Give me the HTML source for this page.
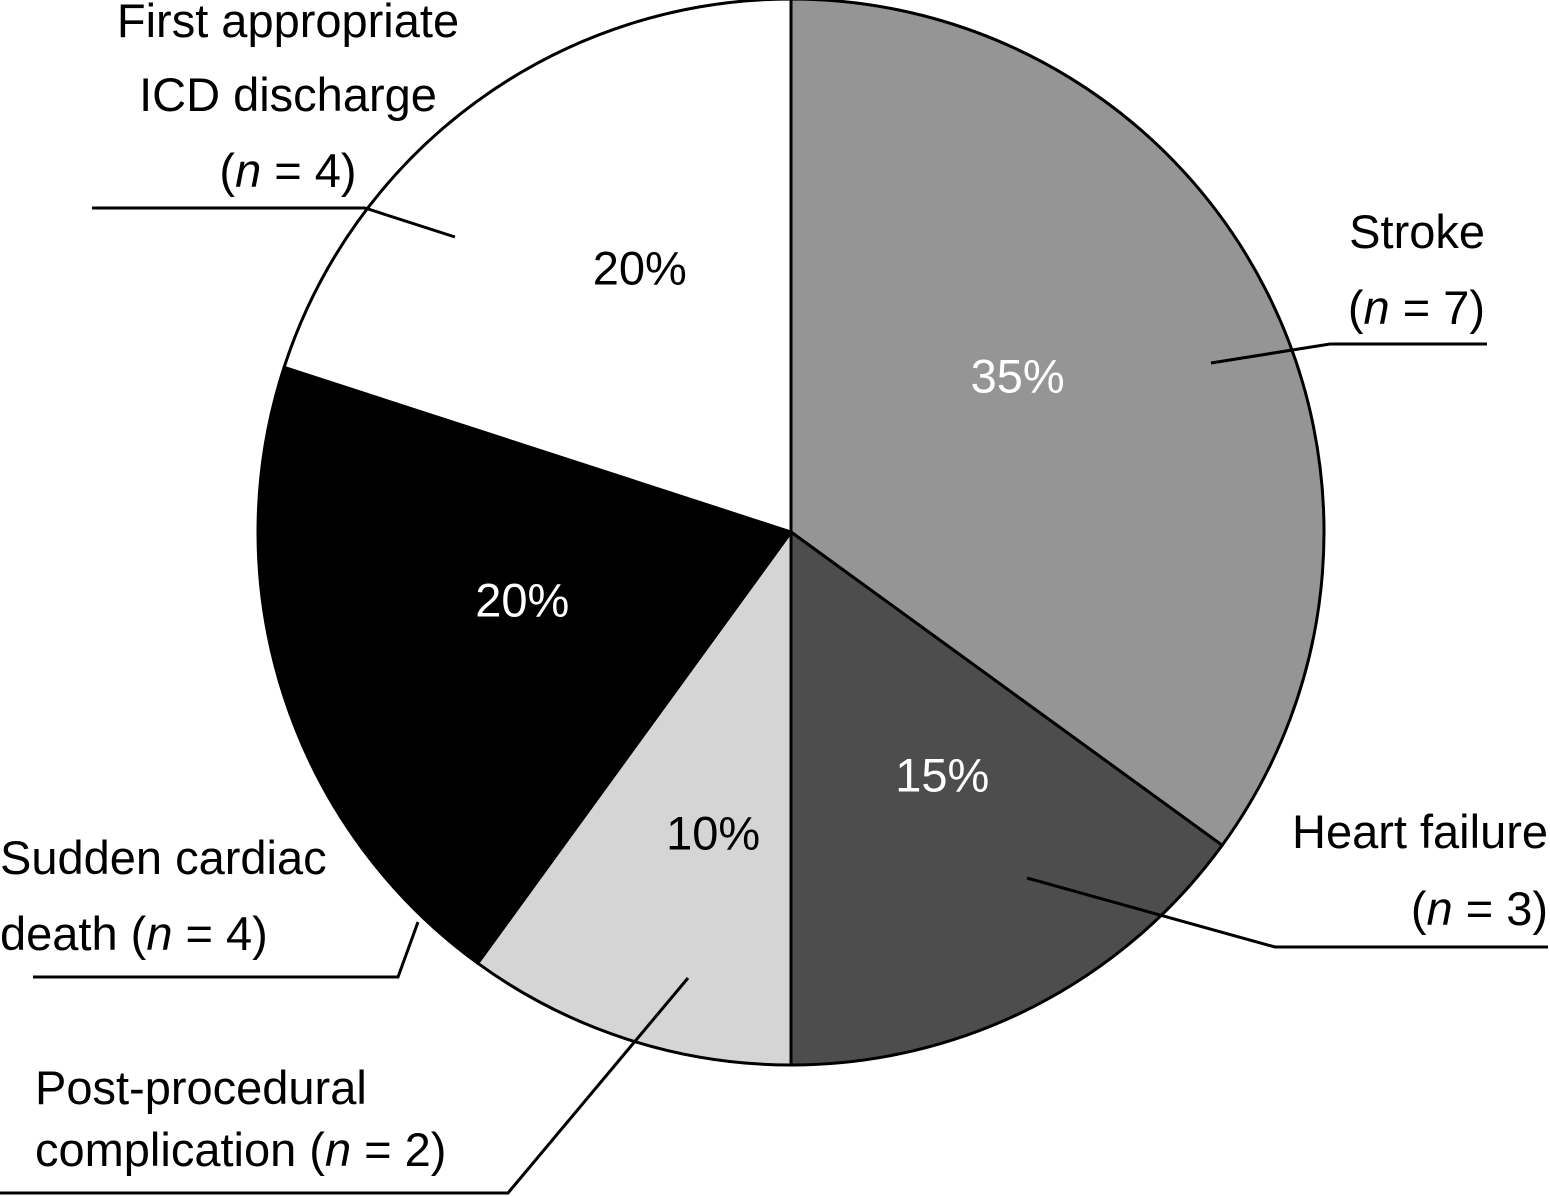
<!DOCTYPE html>
<html><head><meta charset="utf-8"><style>
html,body{margin:0;padding:0;background:#fff;}
svg{display:block;font-family:"Liberation Sans",sans-serif;}
</style></head><body>
<svg id="chart" width="1550" height="1196" viewBox="0 0 1550 1196" xmlns="http://www.w3.org/2000/svg">
<g id="slices"></g>
<g id="pcts"></g>
<g fill="none" stroke="#000" stroke-width="3">
<polyline points="455,237 365,208 92,208"/>
<polyline points="1211,363 1330,344 1487,344"/>
<polyline points="1027,878 1275,947 1548,947"/>
<polyline points="418,922 398,977 33,977"/>
<polyline points="688,978 508,1193 0,1193"/>
</g>
<g font-size="47" fill="#000">
<text text-anchor="middle"><tspan x="288" y="37">First appropriate</tspan><tspan x="288" y="111">ICD discharge</tspan><tspan x="288" y="187">(<tspan font-style="italic">n</tspan> = 4)</tspan></text>
<text text-anchor="end"><tspan x="1485" y="248">Stroke</tspan><tspan x="1485" y="324">(<tspan font-style="italic">n</tspan> = 7)</tspan></text>
<text text-anchor="end"><tspan x="1548" y="848">Heart failure</tspan><tspan x="1548" y="925">(<tspan font-style="italic">n</tspan> = 3)</tspan></text>
<text><tspan x="0" y="874">Sudden cardiac</tspan><tspan x="0" y="950">death (<tspan font-style="italic">n</tspan> = 4)</tspan></text>
<text><tspan x="35" y="1104">Post-procedural</tspan><tspan x="35" y="1166">complication (<tspan font-style="italic">n</tspan> = 2)</tspan></text>
</g>
</svg>
<script>
const categories = ["Stroke","Heart failure","Post-procedural complication","Sudden cardiac death","First appropriate ICD discharge"];
const values = [35, 15, 10, 20, 20];
const pctLabels = ["35%","15%","10%","20%","20%"];
const fills = ["#959595","#4d4d4d","#d5d5d5","#000000","#ffffff"];
const textColors = ["#fff","#fff","#000","#fff","#000"];
const labelRadiusFrac = [0.516, 0.537, 0.583, 0.52, 0.571];
const labelAngleOffsetDeg = [-7.5, -4.9, -3.5, 3.8, 6.2];
const cx = 791, cy = 532, r = 533;
const NS = "http://www.w3.org/2000/svg";
const total = values.reduce((a,b)=>a+b,0);
function pt(frac, rad){ const a = frac*2*Math.PI; return [cx + rad*Math.sin(a), cy - rad*Math.cos(a)]; }
const gS = document.getElementById('slices'), gP = document.getElementById('pcts');
let acc = 0;
values.forEach((v,i)=>{
  const f0 = acc/total, f1 = (acc+v)/total; acc += v;
  const p0 = pt(f0, r), p1 = pt(f1, r);
  const large = (f1-f0) > 0.5 ? 1 : 0;
  const path = document.createElementNS(NS,'path');
  path.setAttribute('d', `M${cx},${cy} L${p0[0]},${p0[1]} A${r},${r} 0 ${large} 1 ${p1[0]},${p1[1]} Z`);
  path.setAttribute('fill', fills[i]);
  path.setAttribute('stroke', '#000');
  path.setAttribute('stroke-width', '3');
  path.setAttribute('stroke-linejoin', 'round');
  
  
  gS.appendChild(path);
  const m = pt((f0+f1)/2 + labelAngleOffsetDeg[i]/360, r*labelRadiusFrac[i]);
  const t = document.createElementNS(NS,'text');
  t.setAttribute('x', m[0]); t.setAttribute('y', m[1]);
  t.setAttribute('text-anchor','middle'); t.setAttribute('dominant-baseline','central');
  t.setAttribute('font-size','47'); t.setAttribute('fill', textColors[i]);
  
  
  t.textContent = pctLabels[i];
  gP.appendChild(t);
});
</script>
</body></html>
